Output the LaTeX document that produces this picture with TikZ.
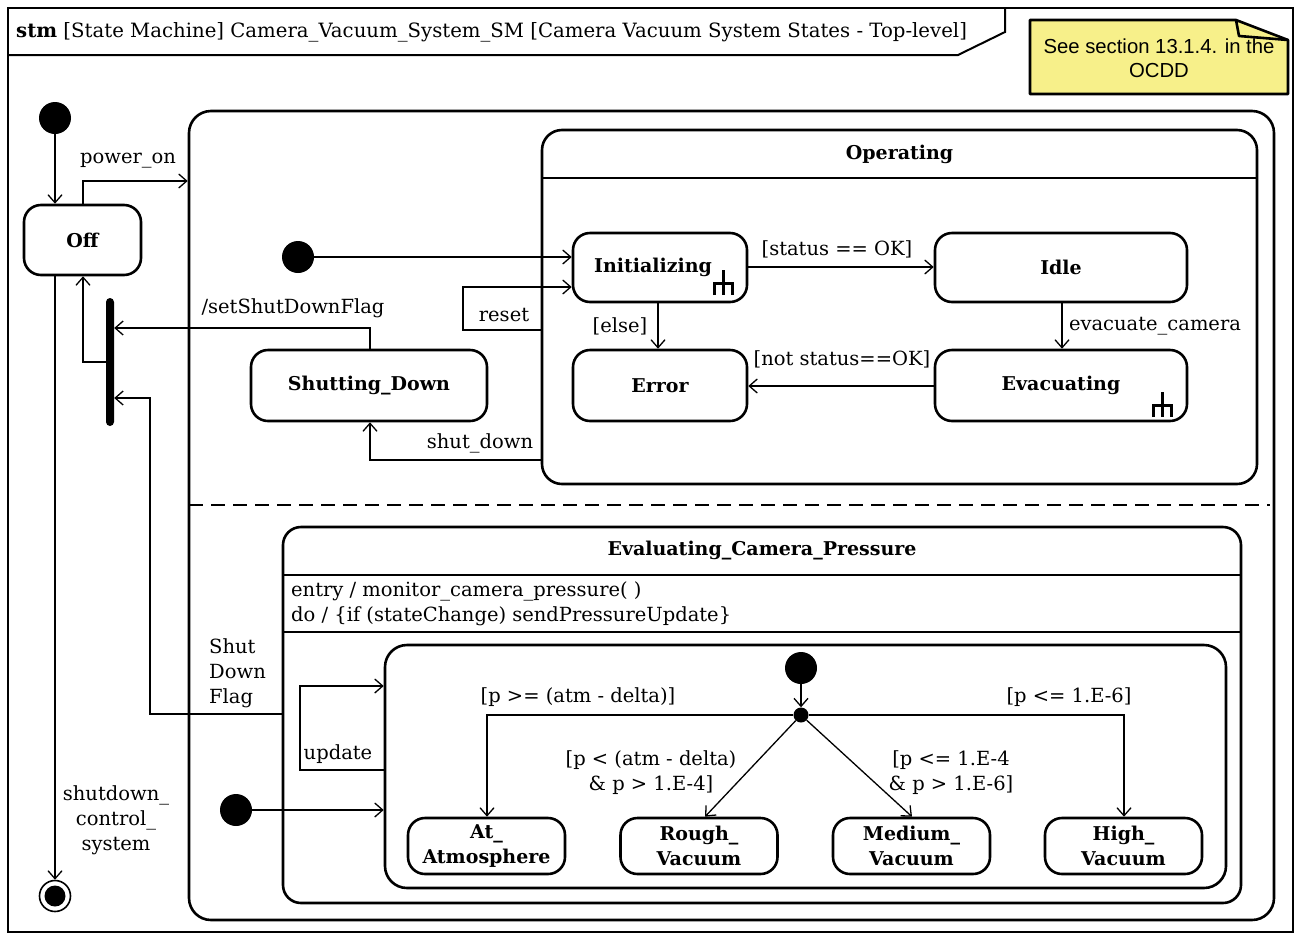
\documentclass[tikz,border=0pt]{standalone}
\usepackage{fontspec}
\setmainfont{DejaVu Serif}
\newfontfamily\notefont{Liberation Sans}
\usetikzlibrary{arrows.meta,calc}
\tikzset{
  stbox/.style={draw, line width=2.6pt, rounded corners=17pt, font=\bfseries\fontsize{19}{25}\selectfont, align=center, inner sep=0pt},
  region/.style={draw, line width=2.6pt, inner sep=0pt},
  tr/.style={line width=1.3pt, -{Straight Barb[length=8pt,width=14pt,line width=1.3pt]}},
  lbl/.style={font=\fontsize{19.5}{25}\selectfont, inner sep=0pt, align=center},
  initst/.style={circle, fill=black, minimum size=32pt, inner sep=0pt},
  subm/.pic={\draw[line width=3pt] (0,-13)--(0,12); \draw[line width=3pt] (-9,12)--(-9,0)--(9,0)--(9,12);}
}
\begin{document}
\begin{tikzpicture}[x=1pt,y=-1pt]
\useasboundingbox (0,0) rectangle (1295,935);
% frame
\draw[line width=2pt] (8,8) rectangle (1293,932);
\draw[line width=2pt] (8,55) -- (958,55) -- (1005,32) -- (1005,8);
\node[anchor=west, font=\fontsize{19.7}{22}\selectfont, inner sep=0pt] (hdr) at (16,32) {\textbf{stm} [State Machine] Camera\_Vacuum\_System\_SM [Camera Vacuum System States - Top-level]};
% note
\filldraw[fill={rgb,255:red,247;green,240;blue,138}, line width=2.6pt, line join=round] (1030,20) -- (1236,20) -- (1288,40) -- (1288,94) -- (1030,94) -- cycle;
\draw[line width=2.6pt, line join=round] (1236,20) -- (1239,36) -- (1288,40);
\node[align=center, font=\notefont\fontsize{20.3}{24}\selectfont, inner sep=0pt] (note) at (1159,58) {See section 13.1.4. in the\\OCDD};
% top-level states
\node[initst] (i0) at (55,118) {};
\node[stbox, minimum width=117pt, minimum height=70pt] (off) at (82.5,240) {Off};
\node[fill=black, rounded corners=4pt, minimum width=8pt, minimum height=128pt, inner sep=0pt] (fork) at (110,362) {};
\node[circle, draw, line width=1.6pt, minimum size=31pt, inner sep=0pt] (fin) at (55,896) {};
\fill (fin.center) circle (10.5pt);
% outer composite
\node[region, rounded corners=22pt, minimum width=1085pt, minimum height=809pt] (outer) at (731.5,515.5) {};
\draw[line width=2.6pt, dash pattern=on 14pt off 8pt] (189,505) -- (1270,505);
% Operating
\node[region, rounded corners=20pt, minimum width=715pt, minimum height=354pt] (op) at (899.5,307) {};
\draw[line width=2.6pt] (542,178) -- (1257,178);
\node[lbl, font=\bfseries\fontsize{19}{22}\selectfont] (opt) at (899.5,154) {Operating};
\node[initst] (i1) at (298,257) {};
\node[stbox, minimum width=174pt, minimum height=69pt] (ini) at (660,267.5) {\hspace*{-14pt}Initializing};
\node[stbox, minimum width=252pt, minimum height=69pt] (idle) at (1061,267.5) {Idle};
\node[stbox, minimum width=174pt, minimum height=71pt] (err) at (660,385.5) {Error};
\node[stbox, minimum width=252pt, minimum height=71pt] (evac) at (1061,385.5) {Evacuating};
\pic at (723,283) {subm};
\pic at (1162,405) {subm};
\node[stbox, minimum width=236pt, minimum height=71pt] (shut) at (369,385.5) {Shutting\_Down};
% Evaluating
\node[region, rounded corners=18pt, minimum width=958pt, minimum height=376pt] (eval) at (762,715) {};
\draw[line width=2.6pt] (283,575) -- (1241,575);
\draw[line width=2.6pt] (283,632) -- (1241,632);
\node[lbl, font=\bfseries\fontsize{19}{22}\selectfont] (evt) at (762,551) {Evaluating\_Camera\_Pressure};
\node[lbl, anchor=west, align=left] (evb) at (291,603.5) {entry / monitor\_camera\_pressure( )\\do / \{if (stateChange) sendPressureUpdate\}};
\node[region, rounded corners=22pt, minimum width=841pt, minimum height=243pt] (inner) at (805.5,766.5) {};
\node[initst] (i2) at (236,810) {};
\node[initst] (i3) at (801,668) {};
\node[circle, fill=black, minimum size=15pt, inner sep=0pt] (jn) at (801,715) {};
\node[stbox, minimum width=157pt, minimum height=56pt] (atm) at (486.5,846) {At\_\\Atmosphere};
\node[stbox, minimum width=157pt, minimum height=56pt] (rough) at (699,846) {Rough\_\\Vacuum};
\node[stbox, minimum width=157pt, minimum height=56pt] (med) at (911.5,846) {Medium\_\\Vacuum};
\node[stbox, minimum width=157pt, minimum height=56pt] (high) at (1123.5,846) {High\_\\Vacuum};
% transitions top level
\draw[tr] (i0) -- (off.north -| i0);
\draw[tr] (off.north -| 83,0) |- (outer.west |- 0,181);
\node[lbl] (lpow) at (128,161) {power\_on};
\draw[tr] (off.south -| 55,0) -- (fin);
\node[lbl] (lsd) at (116,820) {shutdown\_\\control\_\\system};
\draw[tr] (fork.west |- 0,362) -- (83,362) -- (off.south -| 83,0);
\draw[tr] (shut.north -| 370,0) |- (fork.east |- 0,328);
\node[lbl] (lset) at (293,308) {/setShutDownFlag};
\draw[tr] (eval.west |- 0,714) -- (150,714) |- (fork.east |- 0,398);
\node[lbl, align=left, anchor=north west] (lflag) at (209,638) {Shut\\Down\\Flag};
\draw[tr] (op.west |- 0,460) -| (shut.south -| 370,0);
\node[lbl] (lsdn) at (480,443) {shut\_down};
\draw[tr] (op.west |- 0,330) -- (463,330) |- (ini.west |- 0,287);
\node[lbl] (lres) at (504,315) {reset};
\draw[tr] (i1) -- (ini.west |- i1);
\draw[tr] (ini.east |- 0,267) -- (idle.west |- 0,267);
\node[lbl] (lok) at (837,249) {[status == OK]};
\draw[tr] (idle.south -| 1062,0) -- (evac.north -| 1062,0);
\node[lbl] (lev) at (1155,326) {evacuate\_camera};
\draw[tr] (evac.west |- 0,386) -- (err.east |- 0,386);
\node[lbl] (lnok) at (842,359) {[not status==OK]};
\draw[tr] (ini.south -| 658,0) -- (err.north -| 658,0);
\node[lbl] (lels) at (620,326) {[else]};
% evaluating transitions
\draw[tr] (inner.west |- 0,770) -- (300,770) |- (inner.west |- 0,686);
\node[lbl] (lupd) at (338,754) {update};
\draw[tr] (i2) -- (inner.west |- 0,810);
\draw[tr] (i3) -- (jn);
\draw[tr] (jn) -| (atm.north -| 487,0);
\node[lbl] (lg1) at (578,697) {[p >= (atm - delta)]};
\draw[tr] (jn) -| (high.north -| 1124,0);
\node[lbl] (lg4) at (1069,697) {[p <= 1.E-6]};
\draw[tr] (jn) -- (rough.north -| 705,0);
\node[lbl] (lg2) at (651,772.5) {[p < (atm - delta)\\\& p > 1.E-4]};
\draw[tr] (jn) -- (med.north -| 912,0);
\node[lbl] (lg3) at (951,772.5) {[p <= 1.E-4\\\& p > 1.E-6]};
\end{tikzpicture}
\end{document}
